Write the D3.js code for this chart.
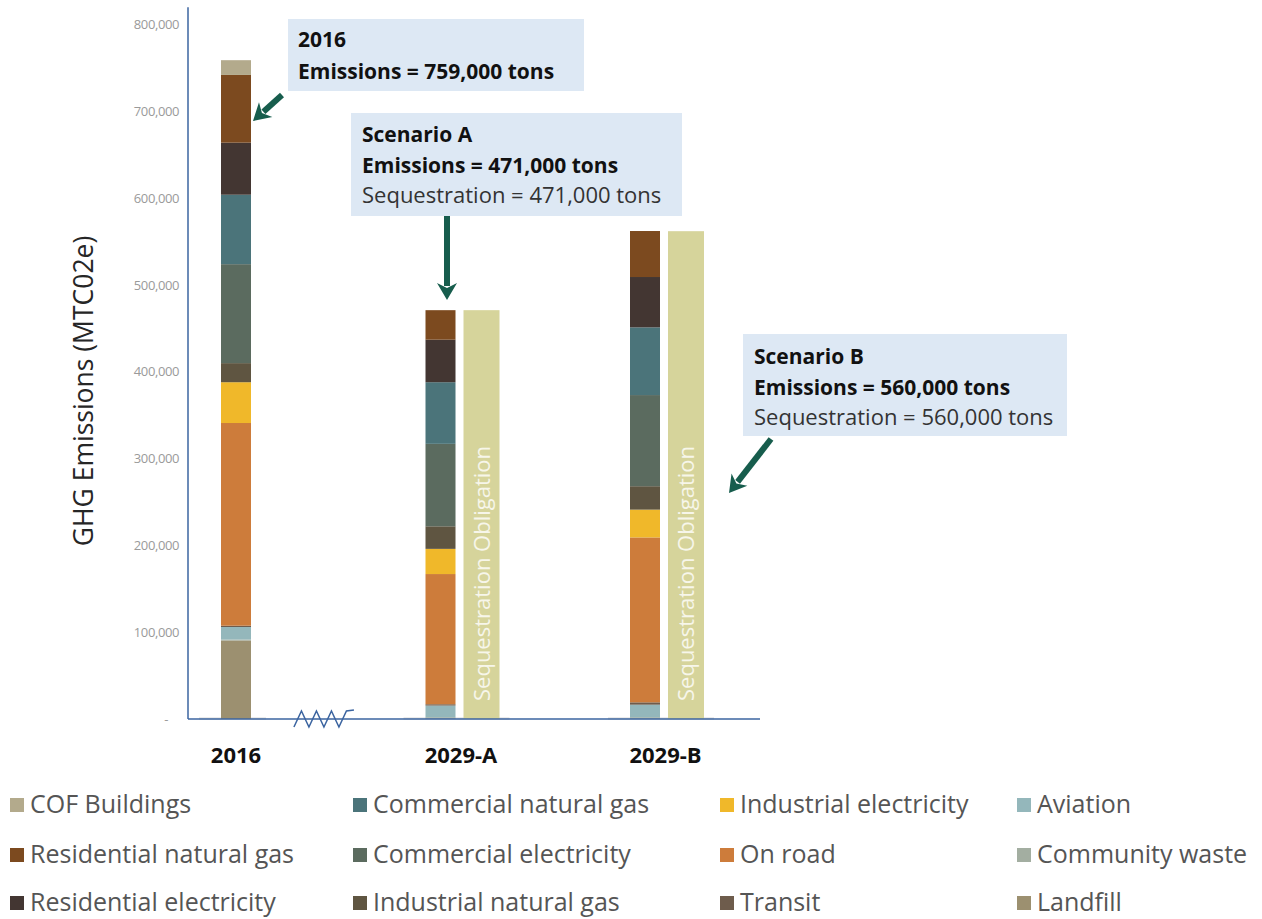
<!DOCTYPE html>
<html>
<head>
<meta charset="utf-8">
<script src="https://cdn.jsdelivr.net/npm/d3@7/dist/d3.min.js"></script>
<style>
  html, body { margin: 0; padding: 0; background: #fff; }
  svg { display: block; font-family: "Open Sans", "Noto Sans", sans-serif; }
</style>
</head>
<body>
<svg id="chart" width="1262" height="919"></svg>
<script>
// ---------------- DATA ----------------
const categories = ["2016", "2029-A", "2029-B"];
const sectors = [
  "COF Buildings", "Residential natural gas", "Residential electricity",
  "Commercial natural gas", "Commercial electricity", "Industrial natural gas",
  "Industrial electricity", "On road", "Transit",
  "Aviation", "Community waste", "Landfill"
];
const sectorColors = [
  "#b3aa8c", "#7c4a1f", "#433632",
  "#4b747a", "#5b6b5f", "#5f5541",
  "#f0b82a", "#cd7c3b", "#6e5c4c",
  "#94b7bb", "#a3aea1", "#9c9070"
];
const values2016  = [17000, 78000, 60000, 80000, 114000, 22000, 47000, 233500, 1500, 14500, 1000, 90500];
const values2029A = [0, 34000, 49000, 71000, 95000, 26000, 29000, 150000, 1500, 13500, 1500, 500];
const values2029B = [0, 53000, 58000, 78000, 105000, 27000, 32000, 190000, 2700, 14500, 1500, 500];
const sequestration = [0, 471000, 562000];
const yTicks = [0, 100000, 200000, 300000, 400000, 500000, 600000, 700000, 800000];
const yTitle = "GHG Emissions (MTC02e)";
const seqLabel = "Sequestration Obligation";
const annotations = [
  { lines: [["2016", true], ["Emissions = 759,000 tons", true]] },
  { lines: [["Scenario A", true], ["Emissions = 471,000 tons", true], ["Sequestration = 471,000 tons", false]] },
  { lines: [["Scenario B", true], ["Emissions = 560,000 tons", true], ["Sequestration = 560,000 tons", false]] }
];

// ---------------- BUILD ----------------
const valueSets = [values2016, values2029A, values2029B];
const table = categories.map((c, i) => {
  const row = { cat: c, seq: sequestration[i] };
  sectors.forEach((s, j) => row[s] = valueSets[i][j]);
  return row;
});

const svg = d3.select("#chart");
const y = d3.scaleLinear().domain([0, 800000]).range([719, 24.6]);
const x = d3.scalePoint().domain(categories).range([236, 645]);
const color = d3.scaleOrdinal().domain(sectors).range(sectorColors);

const barW = 30, seqGap = 8, seqW = 36;
const axisColor = "#3b64a0";

// baseline grey segments
svg.append("g").selectAll("line").data(table).join("line")
  .attr("x1", d => x(d.cat) - 37)
  .attr("x2", d => x(d.cat) + (d.seq > 0 ? barW / 2 + seqGap + seqW + 10 : 30))
  .attr("y1", y(0) - 0.5).attr("y2", y(0) - 0.5)
  .attr("stroke", "#d9d9d9").attr("stroke-width", 2);

// stacked bars
const stack = d3.stack().keys(sectors.slice().reverse());
const series = stack(table);
svg.append("g").selectAll("g").data(series).join("g")
  .attr("fill", d => color(d.key))
  .selectAll("rect").data(d => d).join("rect")
  .attr("x", d => x(d.data.cat) - barW / 2)
  .attr("width", barW)
  .attr("y", d => y(d[1]))
  .attr("height", d => Math.max(0, y(d[0]) - y(d[1])));

// sequestration bars
const seqData = table.filter(d => d.seq > 0);
svg.append("g").selectAll("rect").data(seqData).join("rect")
  .attr("x", d => x(d.cat) + barW / 2 + seqGap)
  .attr("width", seqW)
  .attr("y", d => y(d.seq))
  .attr("height", d => y(0) - y(d.seq))
  .attr("fill", "#d6d49b");
svg.append("g").selectAll("text").data(seqData).join("text")
  .attr("transform", d => `translate(${x(d.cat) + barW / 2 + seqGap + seqW / 2 + 8},${y(0) - 18}) rotate(-90)`)
  .attr("font-size", 22)
  .attr("fill", "#f7f6ea")
  .text(seqLabel);

// y axis
const yAxis = d3.axisLeft(y).tickValues(yTicks).tickSize(0).tickPadding(9)
  .tickFormat(v => v === 0 ? "-" : d3.format(",")(v));
const gy = svg.append("g").attr("transform", "translate(188,0)").call(yAxis);
gy.select(".domain").remove();
gy.selectAll("text").attr("font-size", 13).attr("fill", "#9a9a9a")
  .attr("font-family", "'Open Sans', sans-serif").attr("letter-spacing", "-0.4");
gy.selectAll(".tick").filter(d => d === 0).select("text").attr("dx", -11);
svg.append("line").attr("x1", 188).attr("x2", 188).attr("y1", y(820000)).attr("y2", y(0))
  .attr("stroke", axisColor).attr("stroke-width", 1.5);

// x axis line
svg.append("line").attr("x1", 188).attr("x2", 760).attr("y1", y(0)).attr("y2", y(0))
  .attr("stroke", axisColor).attr("stroke-width", 1.5);

// break zigzag
const zc = x(categories[0]) + 0.43 * (x(categories[1]) - x(categories[0]));
const zz = d3.range(9).map(i => [zc - 30 + i * 7.5, i % 2 === 0 ? y(0) + 8 : y(0) - 8]);
zz[8][1] = y(0) - 9;
svg.append("path").attr("d", d3.line()(zz)).attr("fill", "none")
  .attr("stroke", axisColor).attr("stroke-width", 1.5);

// category labels
svg.append("g").selectAll("text").data(table).join("text")
  .attr("x", d => d.seq > 0 ? x(d.cat) + (barW / 2 + seqGap + seqW / 2) / 2 : x(d.cat))
  .attr("y", 763)
  .attr("text-anchor", "middle")
  .attr("font-size", 22).attr("font-weight", "bold").attr("fill", "#111")
  .text(d => d.cat);

// y title
svg.append("text")
  .attr("transform", "translate(93,391) rotate(-90)")
  .attr("text-anchor", "middle")
  .attr("font-size", 26.5).attr("fill", "#262626")
  .text(yTitle);

// annotation boxes
const boxes = [
  { x: 288, y: 19, w: 296, h: 72, tx: 298, ty: [47, 79] },
  { x: 351, y: 113, w: 331, h: 103, tx: 362, ty: [142, 173, 203] },
  { x: 743, y: 334, w: 324, h: 102, tx: 754, ty: [364, 395, 425] }
];
annotations.forEach((a, i) => {
  const b = boxes[i];
  const g = svg.append("g");
  g.append("rect").attr("x", b.x).attr("y", b.y).attr("width", b.w).attr("height", b.h).attr("fill", "#dde8f4");
  a.lines.forEach(([t, bold], k) => {
    g.append("text").attr("x", b.tx).attr("y", b.ty[k])
      .attr("font-size", bold ? 21 : 22)
      .attr("font-weight", bold ? "bold" : "normal")
      .attr("fill", bold ? "#111" : "#333")
      .text(t);
  });
});

// arrows
function arrow(x1, y1, x2, y2) {
  const ang = Math.atan2(y2 - y1, x2 - x1);
  const hl = 17, hw = 10;
  const bx = x2 - hl * Math.cos(ang), by = y2 - hl * Math.sin(ang);
  const px = -Math.sin(ang), py = Math.cos(ang);
  svg.append("line").attr("x1", x1).attr("y1", y1).attr("x2", bx + 3 * Math.cos(ang)).attr("y2", by + 3 * Math.sin(ang))
    .attr("stroke", "#175d4d").attr("stroke-width", 6);
  svg.append("path")
    .attr("d", `M${x2},${y2} L${bx + px * hw},${by + py * hw} L${bx + 5 * Math.cos(ang)},${by + 5 * Math.sin(ang)} L${bx - px * hw},${by - py * hw} Z`)
    .attr("fill", "#175d4d");
}
arrow(282, 95, 253, 121);
arrow(447, 216, 447, 300);
arrow(771, 439, 729, 493);

// legend
const legendCols = [10, 353, 720, 1017];
const legendRows = [805, 855, 903];
const lg = svg.append("g").selectAll("g").data(sectors).join("g")
  .attr("transform", (d, i) => `translate(${legendCols[Math.floor(i / 3)]},${legendRows[i % 3]})`);
lg.append("rect").attr("x", 0).attr("y", -7).attr("width", 14).attr("height", 14).attr("fill", d => color(d));
lg.append("text").attr("x", 20).attr("y", 8).attr("font-size", 25).attr("fill", "#555").text(d => d);
</script>
</body>
</html>
